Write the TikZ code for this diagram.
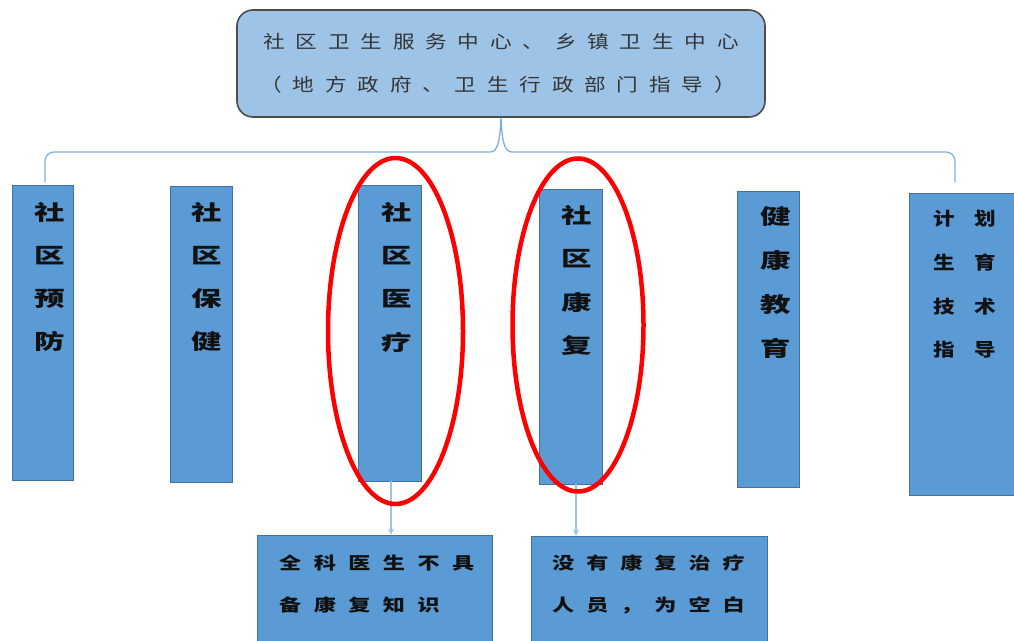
\documentclass[tikz,border=0pt]{standalone}
\usepackage{fontspec}
\usetikzlibrary{shapes.geometric,arrows.meta,calc}
\newfontfamily\cjkTop[FakeStretch=1.2]{Noto Sans CJK SC}
\newfontfamily\cjkCol[FakeStretch=1.45]{Noto Sans CJK SC}
\newfontfamily\cjkSix[FakeStretch=1.2]{Noto Sans CJK SC}
\newfontfamily\cjkBot[FakeStretch=1.3]{Noto Sans CJK SC}
\definecolor{colfill}{HTML}{5B9BD5}
\definecolor{colline}{HTML}{41719C}
\definecolor{topfill}{HTML}{9DC3E6}
\definecolor{topline}{HTML}{4D4D4D}
\definecolor{bracec}{HTML}{7FAFDD}
\definecolor{arrowc}{HTML}{9DC3E6}
\definecolor{ringc}{HTML}{FF0000}
\definecolor{txt}{HTML}{111111}
\newcommand\spc[2]{\def\spgap{#1}\spcA#2\relax\relax}
\newcommand\spcm[2]{\def\spgap{#1}\expandafter\spcA#2\relax\relax}
\def\spcA#1#2{#1\ifx\relax#2\else\hspace{\spgap}\expandafter\spcA\expandafter#2\fi}
\tikzset{
  colbox/.style={draw=colline, fill=colfill, line width=0.8pt, inner sep=0pt},
  topbox/.style={draw=topline, fill=topfill, line width=1.6pt, rounded corners=16pt, inner sep=0pt,
     minimum width=528pt, minimum height=107pt},
  toptext/.style={font=\cjkTop\fontsize{18}{18}\selectfont, text=txt!85, inner sep=0pt},
  coltext/.style={font=\cjkCol\bfseries\fontsize{21}{21}\selectfont, text=txt, inner sep=0pt},
  sixtext/.style={font=\cjkSix\bfseries\fontsize{18}{18}\selectfont, text=txt, inner sep=0pt},
  bottext/.style={font=\cjkBot\bfseries\fontsize{17}{17}\selectfont, text=txt, inner sep=0pt, anchor=west},
  braceline/.style={draw=bracec, line width=1.3pt},
  arr/.style={draw=arrowc, line width=1.6pt, -{Stealth[length=6pt,width=6pt]}},
  ring/.style={draw=ringc, line width=4.5pt, ellipse, inner sep=0pt, fill=none}
}
\begin{document}
\begin{tikzpicture}[x=1pt,y=-1pt]
\useasboundingbox (0,0) rectangle (1014,640);
\clip (0,0) rectangle (1014,640);
% top box
\node[topbox] (top) at (501,63.5) {};
\node[toptext] (t1) at (501,42) {\spc{10.8pt}{社区卫生服务中心、乡镇卫生中心}};
\node[toptext] (t2) at (498,85) {\spc{10.8pt}{（地方政府、卫生行政部门指导）}};
% brace
\coordinate (lend) at (45,182);
\coordinate (rend) at (955,182);
\draw[braceline] (lend) -- (45,161) to[out=90,in=180] (54,152) -- (490,152)
  .. controls (498,152) and (500,140) .. (top.south)
  .. controls (502,140) and (504,152) .. (512,152) -- (946,152)
  to[out=0,in=90] (955,161) -- (rend);
% columns
\node[colbox, minimum width=61pt, minimum height=295pt] (c1) at (42.5,332.5) {};
\node[colbox, minimum width=62pt, minimum height=296pt] (c2) at (201,334) {};
\node[colbox, minimum width=63pt, minimum height=296pt] (c3) at (389.5,333) {};
\node[colbox, minimum width=63pt, minimum height=295pt] (c4) at (570.5,336.5) {};
\node[colbox, minimum width=62pt, minimum height=296pt] (c5) at (768,339) {};
\node[colbox, minimum width=115pt, minimum height=302pt] (c6) at (966.5,344) {};
\foreach \c [count=\i] in {社,区,预,防} \node[coltext] (a\i) at (50,{212+43.3*(\i-1)}) {\c};
\foreach \c [count=\i] in {社,区,保,健} \node[coltext] (b\i) at (207,{212+43.3*(\i-1)}) {\c};
\foreach \c [count=\i] in {社,区,医,疗} \node[coltext] (m\i) at (397,{212+43.5*(\i-1)}) {\c};
\foreach \c [count=\i] in {社,区,康,复} \node[coltext] (k\i) at (577,{215+43.5*(\i-1)}) {\c};
\foreach \c [count=\i] in {健,康,教,育} \node[coltext] (j\i) at (776,{217+43.7*(\i-1)}) {\c};
\foreach \c [count=\i] in {计划,生育,技术,指导} \node[sixtext] (p\i) at (965,{219+43.7*(\i-1)}) {\spcm{20pt}{\c}};
% bottom boxes
\node[colbox, minimum width=235pt, minimum height=120pt] (bb1) at (374.5,595) {};
\node[colbox, minimum width=236pt, minimum height=120pt] (bb2) at (649,596) {};
\node[bottext] (q1) at (279,563) {\spc{12.5pt}{全科医生不具}};
\node[bottext] (q2) at (279,605) {\spc{12.5pt}{备康复知识}};
\node[bottext] (r1) at (552,563) {\spc{12pt}{没有康复治疗}};
\node[bottext] (r2) at (552,605) {\spc{12pt}{人员，为空白}};
% arrows
\draw[arr] ([xshift=1.5pt]c3.south) -- ([xshift=1.5pt]c3.south |- bb1.north) ;
\draw[arr] ([xshift=5.5pt]c4.south) -- ([xshift=5.5pt]c4.south |- bb2.north);
% red rings
\node[ring, minimum width=135pt, minimum height=346pt] (e1) at (395.5,331) {};
\node[ring, minimum width=131pt, minimum height=333pt] (e2) at (578,325) {};
\end{tikzpicture}
\end{document}
